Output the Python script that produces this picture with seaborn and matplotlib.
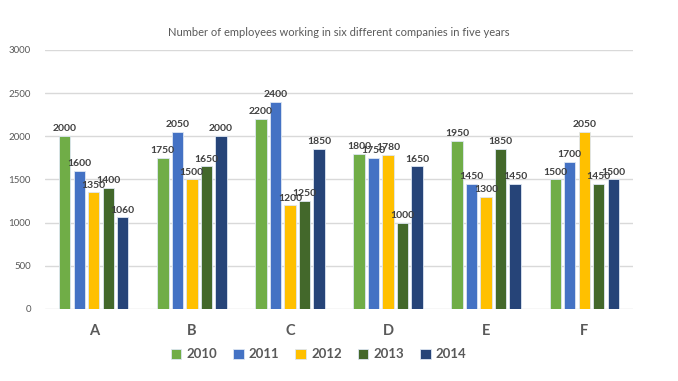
import matplotlib
matplotlib.use('Agg')
import matplotlib.pyplot as plt
import seaborn as sns
import pandas as pd

# data
companies = ['A', 'B', 'C', 'D', 'E', 'F']
years = ['2010', '2011', '2012', '2013', '2014']
emp_2010 = [2000, 1750, 2200, 1800, 1950, 1500]
emp_2011 = [1600, 2050, 2400, 1750, 1450, 1700]
emp_2012 = [1350, 1500, 1200, 1780, 1300, 2050]
emp_2013 = [1400, 1650, 1250, 1000, 1850, 1450]
emp_2014 = [1060, 2000, 1850, 1650, 1450, 1500]
colors = ['#70AD47', '#4472C4', '#FFC000', '#43682B', '#264478']

series = [emp_2010, emp_2011, emp_2012, emp_2013, emp_2014]
rows = []
for year, vals in zip(years, series):
    for comp, v in zip(companies, vals):
        rows.append({'company': comp, 'year': year, 'employees': v})
df = pd.DataFrame(rows)

sns.set_style('white')
plt.rcParams['font.family'] = ['Lato', 'DejaVu Sans']

fig = plt.figure(figsize=(6.78, 3.81), dpi=100)
ax = fig.add_axes([0.066, 0.189, 0.868, 0.68])

sns.barplot(data=df, x='company', y='employees', hue='year', palette=colors,
            saturation=1, width=0.74, gap=0.22, edgecolor='#DDE6F2',
            linewidth=0.6, errorbar=None, ax=ax)

# value labels above each bar
for container in ax.containers:
    ax.bar_label(container, fmt='%d', padding=2, fontsize=7.5, color='#404040',
                 fontweight='bold')

ax.set_ylim(0, 3000)
ax.set_yticks(range(0, 3001, 500))
ax.yaxis.grid(True, color='#D9D9D9', linewidth=1)
ax.set_axisbelow(True)
for s in ax.spines.values():
    s.set_visible(False)
ax.tick_params(axis='y', length=0, labelsize=7, colors='#595959', pad=10)
ax.tick_params(axis='x', length=0, labelsize=10.5, colors='#595959', pad=11)
for lbl in ax.get_xticklabels():
    lbl.set_fontweight('bold')
ax.set_xlabel('')
ax.set_ylabel('')
ax.set_xlim(-0.5, 5.5)

fig.text(0.5, 0.915, 'Number of employees working in six different companies in five years',
         ha='center', va='center', fontsize=8, color='#595959')

handles, labels = ax.get_legend_handles_labels()
ax.legend(handles, labels, loc='center', bbox_to_anchor=(0.47, 0.07),
          bbox_transform=fig.transFigure, ncol=5, frameon=False,
          handlelength=0.8, handleheight=0.8, handletextpad=0.4,
          columnspacing=1.2, prop={'size': 9.5, 'weight': 'bold'},
          labelcolor='#595959')

fig.savefig('out.png', dpi=100)
